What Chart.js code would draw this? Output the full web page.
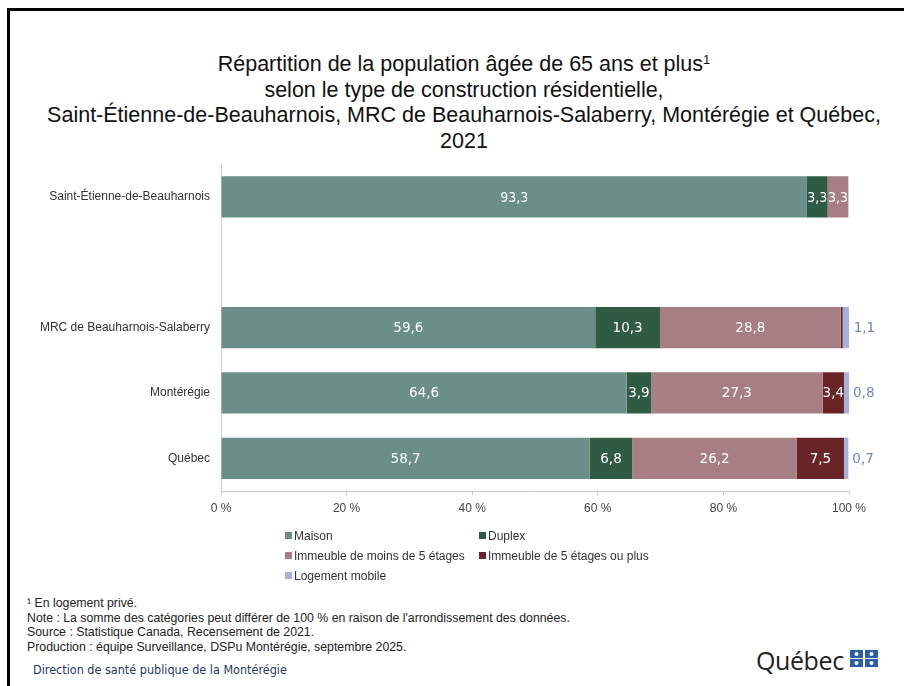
<!DOCTYPE html>
<html>
<head>
<meta charset="utf-8">
<script src="https://cdn.jsdelivr.net/npm/chart.js@4"></script>
<style>
  body { margin: 0; background: #fff; width: 904px; height: 686px; overflow: hidden; position: relative; font-family: "Liberation Sans", Arial, sans-serif; }
  .frame { position: absolute; left: 7px; top: 8px; width: 920px; height: 700px; border-left: 3px solid #000; border-top: 3px solid #000; }
  .title { position: absolute; left: 24px; width: 880px; top: 52px; text-align: center; font-size: 21.5px; line-height: 25.7px; color: #111; }
  .title sup { font-size: 13px; vertical-align: 7px; line-height: 0; }
  #wrap { position: absolute; left: 0; top: 146px; width: 904px; height: 384px; }
  .legend { position: absolute; top: 529px; left: 285px; display: grid; grid-template-columns: 194px 200px; row-gap: 6px; font-size: 12px; color: #333; }
  .legend span.box { display: inline-block; width: 7px; height: 7px; margin-right: 2px; vertical-align: 1px; }
  .notes { position: absolute; left: 27px; top: 596px; font-size: 12.3px; line-height: 14.7px; color: #222; }
  .dir { position: absolute; left: 33px; top: 662px; font-size: 12.5px; color: #1f3864; font-family: "Liberation Sans Narrow", "DejaVu Sans Condensed", sans-serif; }
  .logo { position: absolute; left: 756px; top: 643px; font-family: "Open Sans", sans-serif; font-size: 25px; color: #222; letter-spacing: -0.4px; }
  .logo svg { vertical-align: 3px; margin-left: 6px; }
</style>
</head>
<body>
<div class="frame"></div>
<div class="title">
  Répartition de la population âgée de 65 ans et plus<sup>1</sup><br>
  selon le type de construction résidentielle,<br>
  Saint-Étienne-de-Beauharnois, MRC de Beauharnois-Salaberry, Montérégie et Québec,<br>
  2021
</div>
<div id="wrap"><canvas id="chart"></canvas></div>
<div class="legend" id="legend"></div>
<div class="notes">
  ¹ En logement privé.<br>
  Note : La somme des catégories peut différer de 100 % en raison de l'arrondissement des données.<br>
  Source : Statistique Canada, Recensement de 2021.<br>
  Production : équipe Surveillance, DSPu Montérégie, septembre 2025.
</div>
<div class="dir">Direction de santé publique de la Montérégie</div>
<div class="logo">Québec<svg width="28" height="17" viewBox="0 0 28 17">
  <rect x="0" y="0" width="13" height="8" fill="#2b5ea8"/><rect x="15" y="0" width="13" height="8" fill="#2b5ea8"/>
  <rect x="0" y="9" width="13" height="8" fill="#2b5ea8"/><rect x="15" y="9" width="13" height="8" fill="#2b5ea8"/>
  <circle cx="6.5" cy="4" r="2" fill="#fff"/><circle cx="21.5" cy="4" r="2" fill="#fff"/>
  <circle cx="6.5" cy="13" r="2" fill="#fff"/><circle cx="21.5" cy="13" r="2" fill="#fff"/>
</svg></div>

<script>
// territoires (la ligne vide laisse l'espace entre la municipalite et les autres)
const territoires = ['Saint-Étienne-de-Beauharnois', '', 'MRC de Beauharnois-Salaberry', 'Montérégie', 'Québec'];

const maison = [93.3, null, 59.6, 64.6, 58.7];
const duplex = [3.3, null, 10.3, 3.9, 6.8];
const immeubleMoins5 = [3.3, null, 28.8, 27.3, 26.2];
const immeuble5Plus = [0, null, 0.3, 3.4, 7.5];
const logementMobile = [0, null, 1.1, 0.8, 0.7];

const xTicks = [0, 20, 40, 60, 80, 100];

const series = [
  { label: 'Maison', data: maison, color: '#6b8f88' },
  { label: 'Duplex', data: duplex, color: '#2f5b45' },
  { label: 'Immeuble de moins de 5 étages', data: immeubleMoins5, color: '#a67e84' },
  { label: 'Immeuble de 5 étages ou plus', data: immeuble5Plus, color: '#6a2428' },
  { label: 'Logement mobile', data: logementMobile, color: '#a4b1de' }
];

const fmt = v => v.toFixed(1).replace('.', ',');

// etiquettes de valeurs
const valueLabels = {
  id: 'valueLabels',
  afterDatasetsDraw(chart) {
    const ctx = chart.ctx;
    ctx.save();
    ctx.textBaseline = 'middle';
    chart.data.datasets.forEach((ds, di) => {
      const meta = chart.getDatasetMeta(di);
      meta.data.forEach((bar, i) => {
        const v = ds.data[i];
        if (v == null || v === 0) return;
        ctx.font = i === 0 ? '14px "Liberation Sans Narrow", "DejaVu Sans Condensed", sans-serif' : '13.5px "DejaVu Sans", sans-serif';
        if (di === series.length - 1) {
          ctx.fillStyle = '#7186c6';
          ctx.textAlign = 'left';
          ctx.fillText(fmt(v), bar.x + 4, bar.y + 1);
        } else if (v >= 1) {
          ctx.fillStyle = '#fff';
          ctx.textAlign = 'center';
          ctx.fillText(fmt(v), (bar.x + bar.base) / 2, bar.y + 1);
        }
      });
    });
    ctx.restore();
  }
};

const chart = new Chart(document.getElementById('chart'), {
  type: 'bar',
  data: {
    labels: territoires,
    datasets: series.map(s => ({
      label: s.label,
      data: s.data,
      backgroundColor: s.color,
      borderWidth: 0,
      barPercentage: 0.63,
      categoryPercentage: 1
    }))
  },
  options: {
    indexAxis: 'y',
    responsive: true,
    maintainAspectRatio: false,
    animation: false,
    layout: { padding: { left: 0, right: 55, top: 10, bottom: 0 } },
    plugins: { legend: { display: false }, tooltip: { enabled: false } },
    scales: {
      x: {
        stacked: true,
        min: 0,
        max: 100,
        afterBuildTicks: s => { s.ticks = xTicks.map(v => ({ value: v })); },
        afterFit: s => { s.height = 39; },
        border: { color: '#c8c8c8' },
        grid: { drawOnChartArea: false, drawTicks: true, tickLength: 4, color: '#c8c8c8' },
        ticks: {
          padding: 6,
          color: '#444',
          font: { family: '"Liberation Sans", sans-serif', size: 12 },
          callback: v => v + ' %'
        }
      },
      y: {
        stacked: true,
        afterFit: s => { s.width = 221; },
        border: { color: '#d0d0d0' },
        grid: { display: true, drawOnChartArea: false, drawTicks: false },
        ticks: {
          padding: 11,
          color: '#333',
          font: { family: '"Liberation Sans", sans-serif', size: 12 }
        }
      }
    }
  },
  plugins: [valueLabels]
});

// legende en deux colonnes
const legend = document.getElementById('legend');
series.forEach(s => {
  const d = document.createElement('div');
  d.innerHTML = '<span class="box" style="background:' + s.color + '"></span>' + s.label;
  legend.appendChild(d);
});
</script>
</body>
</html>
